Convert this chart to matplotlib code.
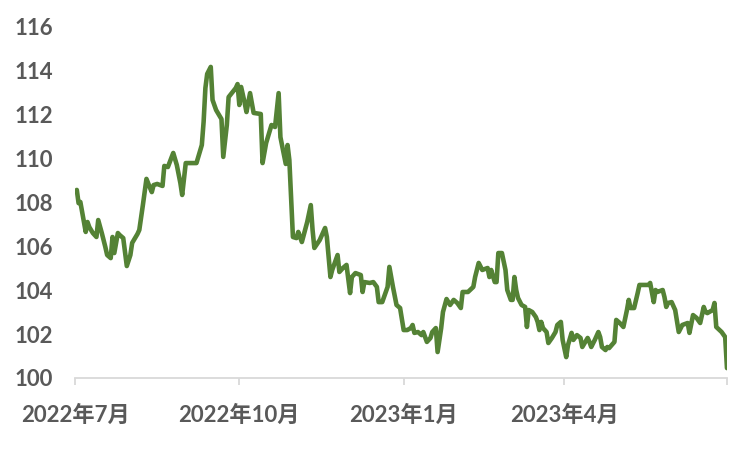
import matplotlib
matplotlib.use("Agg")
import matplotlib.pyplot as plt
import pandas as pd

dates = [
    "2022-07-02", "2022-07-03", "2022-07-04", "2022-07-05", "2022-07-07", "2022-07-08", "2022-07-09",
    "2022-07-11", "2022-07-13", "2022-07-14", "2022-07-16", "2022-07-18", "2022-07-19", "2022-07-21",
    "2022-07-22", "2022-07-23", "2022-07-25", "2022-07-26", "2022-07-28", "2022-07-30", "2022-08-01",
    "2022-08-02", "2022-08-05", "2022-08-06", "2022-08-08", "2022-08-10", "2022-08-12", "2022-08-13",
    "2022-08-14", "2022-08-16", "2022-08-19", "2022-08-20", "2022-08-22", "2022-08-25", "2022-08-27",
    "2022-08-29", "2022-08-30", "2022-09-01", "2022-09-04", "2022-09-07", "2022-09-10", "2022-09-11",
    "2022-09-12", "2022-09-13", "2022-09-15", "2022-09-16", "2022-09-18", "2022-09-21", "2022-09-22",
    "2022-09-24", "2022-09-25", "2022-09-29", "2022-09-30", "2022-10-01", "2022-10-02", "2022-10-04",
    "2022-10-05", "2022-10-07", "2022-10-09", "2022-10-13", "2022-10-14", "2022-10-16", "2022-10-19",
    "2022-10-21", "2022-10-23", "2022-10-24", "2022-10-26", "2022-10-27", "2022-10-28", "2022-10-29",
    "2022-10-31", "2022-11-02", "2022-11-03", "2022-11-05", "2022-11-08", "2022-11-10", "2022-11-11",
    "2022-11-12", "2022-11-15", "2022-11-18", "2022-11-19", "2022-11-21", "2022-11-22", "2022-11-25",
    "2022-11-26", "2022-11-28", "2022-11-30", "2022-12-02", "2022-12-03", "2022-12-05", "2022-12-08",
    "2022-12-09", "2022-12-10", "2022-12-13", "2022-12-15", "2022-12-17", "2022-12-18", "2022-12-20",
    "2022-12-23", "2022-12-24", "2022-12-26", "2022-12-28", "2022-12-30", "2023-01-01", "2023-01-03",
    "2023-01-05", "2023-01-06", "2023-01-07", "2023-01-09", "2023-01-11", "2023-01-12", "2023-01-14",
    "2023-01-16", "2023-01-17", "2023-01-19", "2023-01-20", "2023-01-22", "2023-01-23", "2023-01-25",
    "2023-01-27", "2023-01-29", "2023-01-31", "2023-02-02", "2023-02-03", "2023-02-06", "2023-02-09",
    "2023-02-10", "2023-02-12", "2023-02-14", "2023-02-17", "2023-02-18", "2023-02-19", "2023-02-21",
    "2023-02-22", "2023-02-23", "2023-02-25", "2023-02-27", "2023-02-28", "2023-03-02", "2023-03-03",
    "2023-03-04", "2023-03-05", "2023-03-06", "2023-03-08", "2023-03-10", "2023-03-11", "2023-03-12",
    "2023-03-14", "2023-03-16", "2023-03-17", "2023-03-18", "2023-03-19", "2023-03-20", "2023-03-22",
    "2023-03-23", "2023-03-25", "2023-03-27", "2023-03-28", "2023-03-30", "2023-03-31", "2023-04-02",
    "2023-04-03", "2023-04-05", "2023-04-06", "2023-04-08", "2023-04-10", "2023-04-11", "2023-04-14",
    "2023-04-15", "2023-04-16", "2023-04-18", "2023-04-20", "2023-04-21", "2023-04-22", "2023-04-24",
    "2023-04-25", "2023-04-26", "2023-04-29", "2023-04-30", "2023-05-02", "2023-05-04", "2023-05-06",
    "2023-05-07", "2023-05-08", "2023-05-10", "2023-05-12", "2023-05-13", "2023-05-15", "2023-05-18",
    "2023-05-19", "2023-05-21", "2023-05-22", "2023-05-23", "2023-05-26", "2023-05-27", "2023-05-28",
    "2023-05-29", "2023-05-31", "2023-06-02", "2023-06-04", "2023-06-06", "2023-06-09", "2023-06-10",
    "2023-06-12", "2023-06-14", "2023-06-16", "2023-06-18", "2023-06-19", "2023-06-20", "2023-06-23",
    "2023-06-24", "2023-06-25", "2023-06-28", "2023-06-30", "2023-07-01",
]

values = [
    108.55, 107.95, 108.00, 107.55, 106.64, 107.09, 106.86,
    106.59, 106.41, 107.18, 106.59, 105.95, 105.59, 105.45,
    106.41, 105.68, 106.59, 106.50, 106.36, 105.09, 105.59,
    106.14, 106.55, 106.73, 107.86, 109.05, 108.64, 108.45,
    108.77, 108.82, 108.73, 109.64, 109.59, 110.23, 109.68,
    108.86, 108.32, 109.77, 109.77, 109.77, 110.59, 111.64,
    113.18, 113.82, 114.14, 112.64, 112.18, 111.77, 110.05,
    111.50, 112.77, 113.18, 113.36, 112.41, 113.23, 112.50,
    112.09, 112.95, 112.05, 112.00, 109.77, 110.68, 111.50,
    111.41, 112.95, 110.95, 110.14, 109.73, 110.59, 109.91,
    106.41, 106.36, 106.64, 106.18, 107.09, 107.86, 106.73,
    105.91, 106.27, 106.82, 106.41, 104.59, 104.91, 105.59,
    104.82, 105.00, 105.14, 103.86, 104.59, 104.77, 104.68,
    103.91, 104.36, 104.32, 104.36, 104.14, 103.45, 103.45,
    104.14, 105.05, 104.14, 103.32, 103.18, 102.18, 102.18,
    102.27, 102.41, 102.05, 102.09, 101.95, 102.09, 101.64,
    101.82, 102.09, 102.27, 101.18, 102.27, 103.00, 103.59,
    103.32, 103.55, 103.41, 103.18, 103.91, 103.91, 104.14,
    104.59, 105.23, 104.91, 105.00, 104.59, 104.91, 104.36,
    104.36, 105.68, 105.68, 104.91, 104.00, 103.55, 103.55,
    104.59, 104.00, 103.64, 103.32, 103.23, 102.32, 103.09,
    103.00, 102.77, 102.55, 102.18, 102.55, 102.27, 102.09,
    101.59, 101.82, 102.09, 102.41, 102.55, 101.73, 100.95,
    101.50, 102.05, 101.73, 101.95, 101.82, 101.41, 101.82,
    101.64, 101.41, 101.73, 102.09, 101.86, 101.41, 101.27,
    101.41, 101.36, 101.64, 102.64, 102.50, 102.32, 103.09,
    103.55, 103.18, 103.18, 103.86, 104.23, 104.23, 104.23,
    104.32, 103.45, 104.00, 103.91, 104.00, 103.68, 103.23,
    103.41, 103.45, 103.09, 102.09, 102.41, 102.50, 102.05,
    102.86, 102.73, 102.50, 103.23, 103.00, 102.95, 103.09,
    103.41, 102.32, 102.09, 101.86, 100.45,
]

tick_dates = ["2022-07-01", "2022-10-01", "2023-01-01", "2023-04-01", "2023-07-01"]
tick_labels = ["2022年7月", "2022年10月", "2023年1月", "2023年4月", ""]
y_ticks = [100, 102, 104, 106, 108, 110, 112, 114, 116]

plt.rcParams['font.family'] = ['Lato', 'Noto Sans CJK SC', 'DejaVu Sans']

x = pd.to_datetime(dates)
fig = plt.figure(figsize=(7.5, 4.5), dpi=100)
ax = fig.add_axes([0.1, 0.16, 0.8693, 0.7822])
ax.plot(x, values, color='#548235', linewidth=3.3, solid_joinstyle='round', solid_capstyle='round')

ax.set_xlim(pd.Timestamp(tick_dates[0]), pd.Timestamp(tick_dates[-1]))
ax.set_ylim(100, 116)
ax.set_yticks(y_ticks)
ax.set_yticklabels([str(v) for v in y_ticks])
ax.set_xticks(pd.to_datetime(tick_dates))
ax.set_xticklabels(tick_labels)

for s in ['top', 'right', 'left']:
    ax.spines[s].set_visible(False)
ax.spines['bottom'].set_color('#d9d9d9')
ax.spines['bottom'].set_linewidth(1.3)

ax.tick_params(axis='y', length=0, pad=16, labelsize=16, labelcolor='#595959')
ax.tick_params(axis='x', direction='out', length=5, width=1.3, color='#d9d9d9',
               pad=14, labelsize=16, labelcolor='#595959')
for lab in ax.get_xticklabels() + ax.get_yticklabels():
    lab.set_fontweight('bold')

fig.savefig('out.png', dpi=100)
